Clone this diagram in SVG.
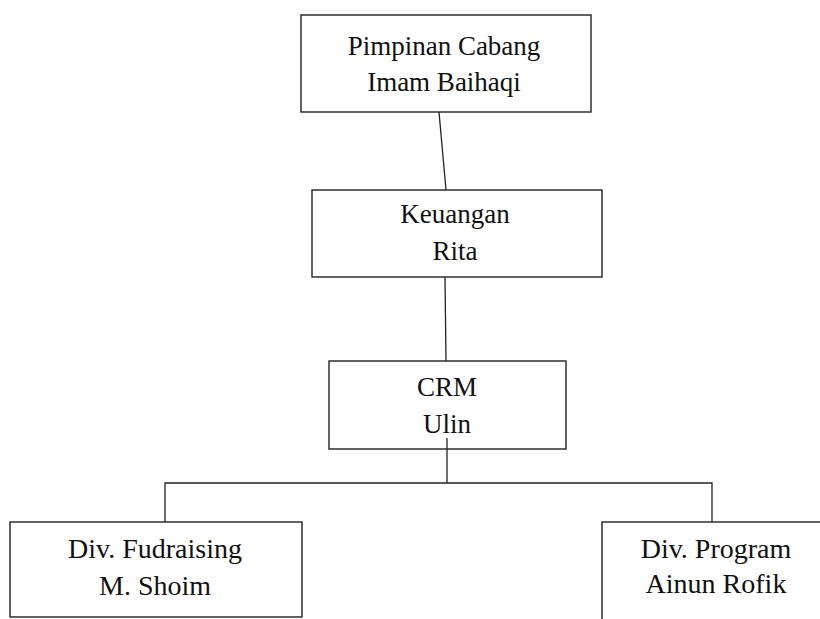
<svg xmlns="http://www.w3.org/2000/svg" width="820" height="619" viewBox="0 0 820 619">
<style>
.box{fill:#fff;stroke:#222;stroke-width:1.4}
.lbl{font-family:"Liberation Serif","Times New Roman",serif;font-size:27px;fill:#111;text-anchor:middle}
.big{font-size:28px}
.con{fill:none;stroke:#222;stroke-width:1.3}
</style>
<rect width="820" height="619" fill="#fff"/>
<g id="connectors">
<line class="con" x1="439" y1="112" x2="446" y2="190"/>
<line class="con" x1="445" y1="277" x2="446" y2="361"/>
<polyline class="con" points="447,438 447,483"/>
<polyline class="con" points="165,522 165,483 712,483 712,522"/>
</g>
<g id="pimpinan">
<rect class="box" x="301" y="15" width="290" height="97"/>
<text class="lbl" x="444" y="55">Pimpinan Cabang</text>
<text class="lbl" x="444" y="91">Imam Baihaqi</text>
</g>
<g id="keuangan">
<rect class="box" x="312" y="190" width="290" height="87"/>
<text class="lbl" x="455" y="223">Keuangan</text>
<text class="lbl" x="455" y="260">Rita</text>
</g>
<g id="crm">
<rect class="box" x="329" y="361" width="237" height="88"/>
<text class="lbl" x="447" y="396">CRM</text>
<text class="lbl" x="447" y="433">Ulin</text>
<line class="con" x1="447" y1="438" x2="447" y2="449"/>
</g>
<g id="fundraising">
<rect class="box" x="10" y="522" width="292" height="95"/>
<text class="lbl big" x="155" y="558">Div. Fudraising</text>
<text class="lbl big" x="155" y="595">M. Shoim</text>
</g>
<g id="program">
<rect class="box" x="602" y="522" width="230" height="110"/>
<text class="lbl big" x="716" y="558">Div. Program</text>
<text class="lbl big" x="716" y="593">Ainun Rofik</text>
</g>
</svg>
